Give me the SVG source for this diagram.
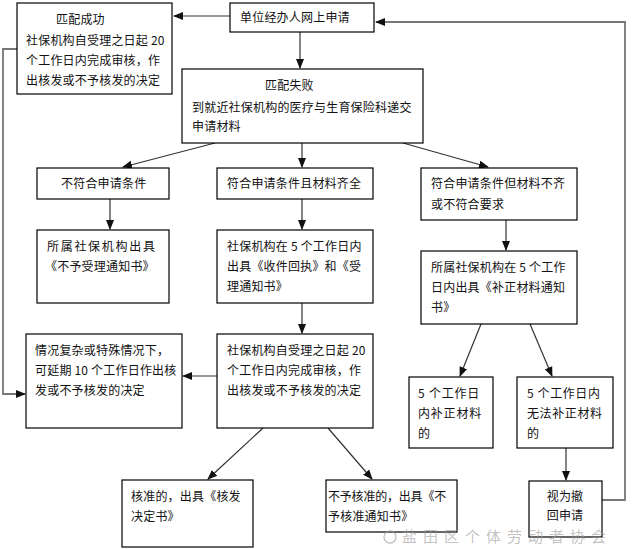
<svg xmlns="http://www.w3.org/2000/svg" width="638" height="549" viewBox="0 0 638 549">
<style>
.box{fill:#fff;stroke:#000;stroke-width:1.2}
.t{font-family:"Noto Sans CJK SC","Noto Sans",sans-serif;font-size:12px;fill:#111;letter-spacing:0.2px}
.c{fill:none;stroke:#333;stroke-width:1.2}
.fb{fill:none;stroke:#777;stroke-width:1.8}
.wm{font-family:"Noto Sans CJK SC",sans-serif;font-size:15px;fill:#9a9a9a;fill-opacity:0.6;letter-spacing:6px}
</style>
<defs>
<marker id="ah" markerUnits="userSpaceOnUse" markerWidth="10" markerHeight="10" viewBox="0 0 10 10" refX="9" refY="5" orient="auto">
<path d="M0,1 L10,5 L0,9 Z" fill="#111"/>
</marker>
</defs>
<rect width="638" height="549" fill="#fff"/>
<g id="connectors">
<line class="c" x1="230" y1="16" x2="174" y2="16" marker-end="url(#ah)"/>
<line class="c" x1="300" y1="32" x2="300" y2="68" marker-end="url(#ah)"/>
<polyline class="fb" points="602,500 625,500 625,22 376,22" marker-end="url(#ah)"/>
<polyline class="fb" points="17,49 3,49 3,394 25,394" marker-end="url(#ah)"/>
<line class="c" x1="215" y1="143" x2="123" y2="167" marker-end="url(#ah)"/>
<line class="c" x1="302" y1="143" x2="302" y2="167" marker-end="url(#ah)"/>
<line class="c" x1="403" y1="143" x2="488" y2="167" marker-end="url(#ah)"/>
<line class="c" x1="110" y1="199" x2="110" y2="229" marker-end="url(#ah)"/>
<line class="c" x1="302" y1="199" x2="302" y2="229" marker-end="url(#ah)"/>
<line class="c" x1="506" y1="220" x2="506" y2="250" marker-end="url(#ah)"/>
<line class="c" x1="302" y1="303" x2="302" y2="333" marker-end="url(#ah)"/>
<line class="c" x1="217" y1="376" x2="183" y2="376" marker-end="url(#ah)"/>
<line class="c" x1="481" y1="324" x2="460" y2="376" marker-end="url(#ah)"/>
<line class="c" x1="530" y1="324" x2="552" y2="376" marker-end="url(#ah)"/>
<line class="c" x1="566" y1="448" x2="566" y2="480" marker-end="url(#ah)"/>
<line class="c" x1="263" y1="428" x2="208" y2="479" marker-end="url(#ah)"/>
<line class="c" x1="328" y1="428" x2="372" y2="479" marker-end="url(#ah)"/>
</g>
<g id="n_success">
<rect class="box" x="17" y="3" width="155" height="91"/>
<text class="t" x="56" y="24">匹配成功</text>
<text class="t" x="26" y="45">社保机构自受理之日起 20</text>
<text class="t" x="26" y="65">个工作日内完成审核，作</text>
<text class="t" x="26" y="85">出核发或不予核发的决定</text>
</g>
<g id="n_apply">
<rect class="box" x="230" y="3" width="144" height="29"/>
<text class="t" x="240" y="22">单位经办人网上申请</text>
</g>
<g id="n_fail">
<rect class="box" x="182" y="69" width="241" height="74"/>
<text class="t" x="265" y="90">匹配失败</text>
<text class="t" x="192" y="112">到就近社保机构的医疗与生育保险科递交</text>
<text class="t" x="192" y="131">申请材料</text>
</g>
<g id="n_notok">
<rect class="box" x="37" y="168" width="132" height="31"/>
<text class="t" x="61" y="188">不符合申请条件</text>
</g>
<g id="n_ok">
<rect class="box" x="217" y="168" width="156" height="31"/>
<text class="t" x="227" y="188">符合申请条件且材料齐全</text>
</g>
<g id="n_incomplete">
<rect class="box" x="421" y="168" width="156" height="52"/>
<text class="t" x="431" y="188">符合申请条件但材料不齐</text>
<text class="t" x="431" y="209">或不符合要求</text>
</g>
<g id="n_reject_notice">
<rect class="box" x="37" y="230" width="132" height="73"/>
<text class="t" x="47" y="251" style="letter-spacing:1.7px">所属社保机构出具</text>
<text class="t" x="45" y="271">《不予受理通知书》</text>
</g>
<g id="n_receipt">
<rect class="box" x="217" y="230" width="156" height="73"/>
<text class="t" x="227" y="251">社保机构在 5 个工作日内</text>
<text class="t" x="227" y="271">出具《收件回执》和《受</text>
<text class="t" x="227" y="291">理通知书》</text>
</g>
<g id="n_correction_notice">
<rect class="box" x="421" y="251" width="156" height="73"/>
<text class="t" x="431" y="272">所属社保机构在 5 个工作</text>
<text class="t" x="431" y="292">日内出具《补正材料通知</text>
<text class="t" x="431" y="312">书》</text>
</g>
<g id="n_extend">
<rect class="box" x="26" y="334" width="156" height="94"/>
<text class="t" x="35" y="355">情况复杂或特殊情况下，</text>
<text class="t" x="35" y="375">可延期 10 个工作日作出核</text>
<text class="t" x="35" y="395">发或不予核发的决定</text>
</g>
<g id="n_review">
<rect class="box" x="217" y="334" width="156" height="94"/>
<text class="t" x="227" y="355">社保机构自受理之日起 20</text>
<text class="t" x="227" y="375">个工作日内完成审核，作</text>
<text class="t" x="227" y="395">出核发或不予核发的决定</text>
</g>
<g id="n_corrected">
<rect class="box" x="409" y="377" width="84" height="71"/>
<text class="t" x="418" y="398" style="letter-spacing:0.8px">5 个工作日</text>
<text class="t" x="418" y="418" style="letter-spacing:0.8px">内补正材料</text>
<text class="t" x="418" y="438">的</text>
</g>
<g id="n_not_corrected">
<rect class="box" x="517" y="377" width="96" height="71"/>
<text class="t" x="527" y="398" style="letter-spacing:0.6px">5 个工作日内</text>
<text class="t" x="527" y="418" style="letter-spacing:0.6px">无法补正材料</text>
<text class="t" x="527" y="438">的</text>
</g>
<g id="n_approved">
<rect class="box" x="122" y="480" width="131" height="67"/>
<text class="t" x="131" y="501">核准的，出具《核发</text>
<text class="t" x="131" y="521">决定书》</text>
</g>
<g id="n_denied">
<rect class="box" x="326" y="480" width="131" height="52"/>
<text class="t" x="328" y="501" style="letter-spacing:-0.2px">不予核准的，出具《不</text>
<text class="t" x="328" y="521">予核准通知书》</text>
</g>
<g id="n_withdrawn">
<rect class="box" x="529" y="481" width="73" height="56"/>
<text class="t" x="565" y="501" text-anchor="middle">视为撤</text>
<text class="t" x="565" y="520" text-anchor="middle">回申请</text>
</g>
<g id="watermark">
<circle cx="390" cy="537" r="6" fill="none" stroke="#9a9a9a" stroke-opacity="0.6" stroke-width="1.4"/>
<text class="wm" x="402" y="542">盐田区个体劳动者协会</text>
</g>
</svg>
